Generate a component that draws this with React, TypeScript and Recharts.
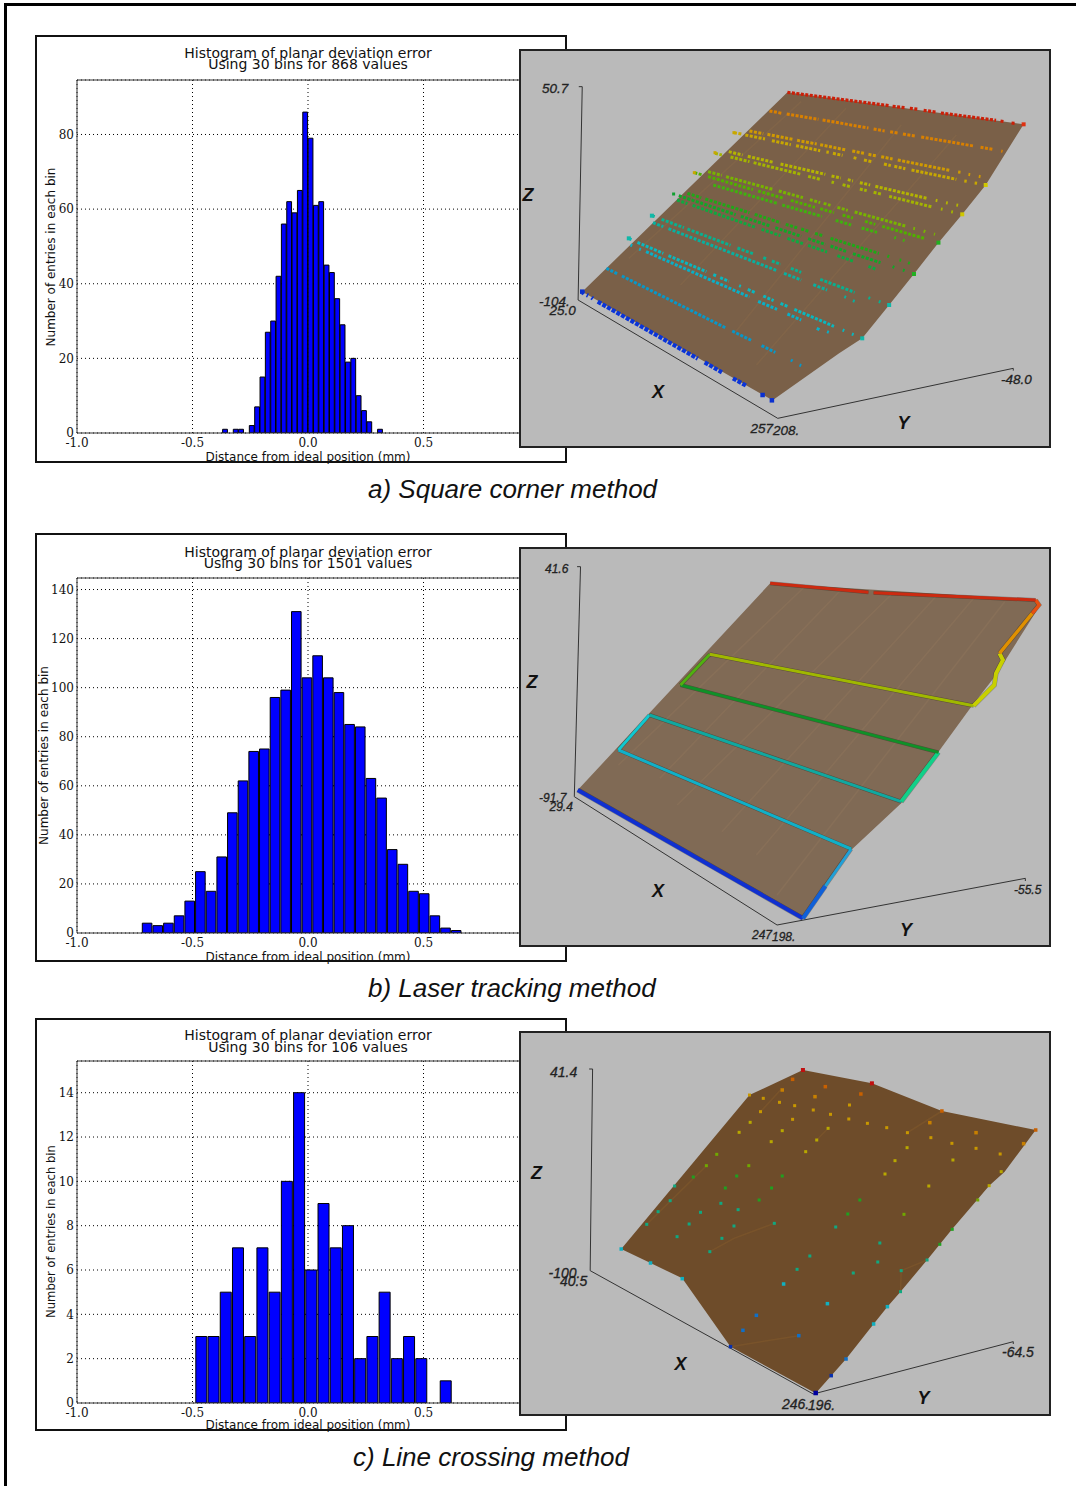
import React from 'react';
import { BarChart, Bar, XAxis, YAxis, CartesianGrid, ReferenceLine, ScatterChart, Scatter } from 'recharts';

// ---------- histogram data ----------
const xTickValues = [-1, -0.5, 0, 0.5];
const binsA = [-0.358,-0.3349,-0.3118,-0.2886,-0.2655,-0.2424,-0.2192,-0.1961,-0.173,-0.1498,-0.1267,-0.1036,-0.0804,-0.0573,-0.0342,-0.011,0.0121,0.0352,0.0583,0.0815,0.1046,0.1277,0.1509,0.174,0.1971,0.2203,0.2434,0.2665,0.2897,0.3128];
const countsA = [1,0,1,1,0,2,7,15,27,30,42,56,62,59,65,86,79,61,62,45,43,36,29,19,20,10,6,3,0,1];
const yTicksA = [0,20,40,60,80];
const binsB = [-0.6986,-0.6525,-0.6063,-0.5602,-0.5141,-0.4679,-0.4218,-0.3756,-0.3295,-0.2834,-0.2372,-0.1911,-0.1449,-0.0988,-0.0527,-0.0065,0.0396,0.0858,0.1319,0.178,0.2242,0.2703,0.3165,0.3626,0.4087,0.4549,0.501,0.5472,0.5933,0.6394];
const countsB = [4,3,4,7,13,25,17,31,49,62,74,75,96,99,131,104,113,104,98,85,84,63,55,34,28,17,16,7,2,1];
const yTicksB = [0,20,40,60,80,100,120,140];
const binsC = [-0.4635,-0.4106,-0.3577,-0.3048,-0.2519,-0.199,-0.1461,-0.0932,-0.0403,0.0126,0.0655,0.1184,0.1713,0.2242,0.2771,0.33,0.3829,0.4358,0.4887,0.5416,0.5945];
const countsC = [3,3,5,7,3,7,5,10,14,6,9,7,8,2,3,5,2,3,2,0,1];
const yTicksC = [0,2,4,6,8,10,12,14];

// ---------- projected 3D scene A ----------
const polyA = [[195,740],[790,142],[1475,238],[1365,420],[1297,508],[1228,593],[1157,687],[1085,780],[1007,880],[940,925],[747,1066]];
const axesA = [[[185,125],[195,125],[183,765],[762,1120],[1445,970],[1445,977]]];
const streaksA = [[[330,640],[830,170]],[[480,720],[960,190]],[[640,860],[1120,240]],[[700,960],[1280,270]]];
const rowsA = [
  { c:'#cc1f08', w:3.2, s:[[790,142,1085,182],[1095,184,1130,188],[1145,190,1170,193],[1185,196,1220,201],[1235,204,1395,226],[1408,228,1420,230],[1440,234,1450,235]] },
  { c:'#d98000', w:3, s:[[738,198,775,205],[788,207,880,223],[892,225,1025,249],[1040,252,1072,258],[1088,260,1110,264],[1125,267,1160,273],[1178,276,1330,303],[1350,307,1385,313],[1410,318,1414,319]] },
  { c:'#d09a00', w:3, s:[[680,258,720,266],[732,268,805,283],[818,286,875,297],[885,299,960,315],[978,318,1012,325],[1025,328,1050,333],[1062,335,1095,342],[1110,345,1260,376],[1285,381,1292,382],[1315,388,1320,389],[1345,394,1350,395]] },
  { c:'#c8a800', w:3, s:[[635,263,660,268],[668,270,725,282],[745,287,800,299],[815,302,885,317],[903,321,910,322],[922,325,950,331],[982,338,990,340],[1012,345,1035,350],[1070,357,1090,362],[1100,364,1132,371],[1150,375,1280,403],[1303,408,1310,409],[1333,414,1340,415]] },
  { c:'#b4b400', w:3, s:[[620,320,660,330],[675,334,750,352],[770,357,900,388],[918,393,945,399],[965,404,980,408],[1000,413,1030,420],[1045,424,1195,460],[1220,466,1225,467],[1250,473,1255,474],[1280,480,1285,481]] },
  { c:'#a4b400', w:3, s:[[580,325,600,330],[625,336,680,350],[692,353,830,388],[850,394,885,403],[918,411,925,413],[950,419,972,425],[1000,432,1020,437],[1040,442,1065,448],[1085,454,1210,486],[1235,492,1240,493],[1265,500,1270,501]] },
  { c:'#78b400', w:3, s:[[560,380,600,391],[612,395,750,434],[765,438,835,458],[855,464,885,473],[895,475,915,481],[935,487,965,496],[985,501,1135,544],[1155,550,1160,551],[1185,558,1190,560],[1215,567,1218,568]] },
  { c:'#50b000', w:3, s:[[520,383,545,390],[560,395,690,434],[705,438,780,460],[800,466,870,487],[885,491,925,503],[950,510,980,519],[1015,529,1045,538],[1065,544,1190,581]] },
  { c:'#40b010', w:3, s:[[575,420,760,475],[775,480,890,514],[930,526,975,540],[1005,549,1050,562],[1100,577,1105,579],[1125,585,1130,587]] },
  { c:'#20a818', w:3, s:[[500,445,540,458],[552,462,680,503],[695,508,770,533],[785,538,820,549],[830,552,855,560],[870,565,895,573],[915,580,1055,625],[1080,633,1085,635],[1115,645,1120,646],[1140,653,1145,655]] },
  { c:'#10a828', w:3, s:[[475,452,640,509],[655,514,740,543],[755,548,830,574],[850,581,900,598],[915,603,960,619],[980,626,1060,653],[1095,665,1100,667],[1125,675,1130,677]] },
  { c:'#10a840', w:3, s:[[470,465,500,476],[515,481,700,548],[715,553,770,572],[790,580,835,596],[850,601,905,621],[935,632,980,648],[1025,664,1045,672]] },
  { c:'#08b090', w:3, s:[[397,512,405,515],[425,523,490,548],[500,552,625,601],[645,609,690,626],[720,638,730,642],[745,648,770,658],[800,670,830,682],[885,703,985,742],[1025,758,1030,760],[1055,769,1060,771]] },
  { c:'#08b0a0', w:3, s:[[400,533,430,545],[445,551,760,677],[780,685,830,705],[865,719,905,735],[955,755,960,757],[980,767,985,769]] },
  { c:'#08b8c0', w:3, s:[[330,580,340,585],[355,592,430,625],[445,632,555,680],[575,689,585,693],[595,698,620,709],[650,722,655,724],[675,733,695,742],[720,753,750,767],[770,775,790,784],[810,793,925,844],[950,855,955,857],[977,867,982,869]] },
  { c:'#08b0c8', w:3, s:[[335,600,340,602],[360,612,365,614],[380,620,680,756],[705,769,760,793],[790,807,830,825],[875,850,885,855],[905,860,910,862]] },
  { c:'#0898c8', w:3, s:[[265,670,300,688],[310,693,610,848],[630,858,685,886],[715,902,755,922],[800,945,805,948],[825,960,830,962]] },
  { c:'#0a34d8', w:4.2, s:[[195,742,200,745],[208,750,212,752],[222,758,226,761],[240,770,530,941],[550,952,600,982],[632,1000,672,1023]] },
];
const dotsA = [
  { c:'#e03010', r:4, p:[[1475,238]] },
  { c:'#d0c800', r:4, p:[[1365,420],[1297,508]] },
  { c:'#20b020', r:4, p:[[1228,593],[1157,687]] },
  { c:'#10b8a8', r:4, p:[[1085,780],[1007,880],[397,512],[330,580]] },
  { c:'#c8a800', r:3, p:[[635,263],[580,323],[520,383]] },
  { c:'#10a030', r:3, p:[[460,447]] },
  { c:'#0a30d0', r:4.5, p:[[745,1066],[718,1050],[195,740]] },
];

// ---------- projected 3D scene B ----------
const polyB = [[182,735],[740,115],[1515,165],[1520,185],[1395,390],[1320,490],[1225,625],[1120,775],[975,915],[835,1120]];
const axesB = [[[180,65],[190,65],[172,755],[760,1140],[1480,1000],[1480,1008]]];
const streaksB = [[[300,660],[840,125]],[[420,700],[950,130]],[[470,780],[1090,150]],[[600,860],[1220,155]],[[700,930],[1330,160]],[[760,1050],[1420,170]]];
const linesB = [
  { c:'#1030d0', w:4, p:[[182,735],[835,1120]] },
  { c:'#1060d8', w:4, p:[[835,1120],[900,1023]] },
  { c:'#20a0d8', w:3, p:[[900,1023],[975,912]] },
  { c:'#10b0c8', w:3, p:[[975,912],[300,615]] },
  { c:'#10c8d0', w:3, p:[[300,615],[390,510]] },
  { c:'#10a8a0', w:3, p:[[390,510],[1120,770]] },
  { c:'#10d088', w:4, p:[[1120,770],[1228,622]] },
  { c:'#109028', w:3, p:[[1228,622],[480,420]] },
  { c:'#50b010', w:3, p:[[480,420],[565,328]] },
  { c:'#a0b800', w:3, p:[[565,328],[1330,482]] },
  { c:'#c8d000', w:4, p:[[1330,482],[1390,420],[1395,385],[1415,345],[1405,325]] },
  { c:'#e09000', w:3.5, p:[[1405,325],[1500,205]] },
  { c:'#e85010', w:3.5, p:[[1500,205],[1520,180],[1510,165]] },
  { c:'#cc2a10', w:3, p:[[1510,165],[1040,143]] },
  { c:'#cc2a10', w:3, p:[[1025,142],[740,115]] },
];

// ---------- projected 3D scene C ----------
const polyC = [[308,672],[680,210],[835,135],[1035,175],[1238,258],[1510,315],[1420,440],[1375,482],[1340,525],[1268,612],[1195,705],[1118,800],[1080,845],[1040,897],[960,1002],[917,1052],[872,1105],[625,965],[485,760],[393,714]];
const axesC = [[[215,132],[225,132],[218,737],[865,1107],[1445,950],[1445,957]]];
const streaksC = [[[565,680],[635,640],[752,595]],[[625,965],[823,932]],[[1118,800],[1120,737],[1195,705]],[[1138,323],[1238,258]],[[875,345],[908,310]],[[770,195],[712,260]],[[382,598],[555,422]]];
const dotsC = [
  { c:'#c01010', r:4, p:[[835,135],[1035,175]] },
  { c:'#c86000', r:3.5, p:[[805,163],[900,185],[1003,207],[1238,258],[1510,315]] },
  { c:'#c88000', r:3.5, p:[[1203,293],[775,195],[870,215],[1337,323],[1475,356]] },
  { c:'#c89800', r:3, p:[[680,210],[720,220],[767,232],[811,242],[865,255],[970,240],[915,268],[968,282],[712,260],[805,283],[1022,295],[1078,308],[1138,323],[1206,338],[1267,355],[1337,370],[1407,387]] },
  { c:'#b8a800', r:3, p:[[682,292],[650,322],[775,317],[908,310],[875,345],[743,350],[843,380],[1137,368],[1102,407],[1270,405],[1073,447],[1200,483],[1410,440],[1375,482]] },
  { c:'#70a800', r:3, p:[[585,388],[555,422],[678,422],[1342,525],[1128,568]] },
  { c:'#20a020', r:3, p:[[517,456],[643,453],[775,453],[610,489],[744,489],[708,525],[1000,525],[965,567],[1268,613],[1232,658]] },
  { c:'#10a880', r:3, p:[[463,483],[450,527],[597,535],[647,554],[538,562],[415,560],[505,597],[635,603],[752,595],[930,606],[1058,654],[1195,705],[1052,711],[855,693],[382,598],[470,635],[600,640],[565,680],[818,733],[981,744],[1120,737],[1118,800]] },
  { c:'#10b0c0', r:3.5, p:[[308,672],[393,714],[485,761],[779,777],[906,836],[1080,845],[1040,897]] },
  { c:'#1070c8', r:3.5, p:[[700,871],[661,916],[823,932],[960,1002]] },
  { c:'#0830b0', r:3.5, p:[[625,965],[917,1052]] },
  { c:'#0000a0', r:4.5, p:[[872,1104]] },
];

// ---------- text ----------
const SANS = '"DejaVu Sans"';
const SERIF = '"DejaVu Serif"';
const HELV = '"Liberation Sans"';
const titleLine = 'Histogram of planar deviation error';
const yLabel = 'Number of entries in each bin';
const xLabel = 'Distance from ideal position (mm)';
const subtitles = [
  ['Using 30 bins for 868 values', 57.7, 69.3, 55, 257, 12],
  ['Using 30 bins for 1501 values', 556.7, 568.3, 47.5, 755.5, 12],
  ['Using 30 bins for 106 values', 1040, 1051.5, 55, 1231.5, 11.6],
];
const captions = [
  ['a) Square corner method', 368, 498],
  ['b) Laser tracking method', 368, 997],
  ['c) Line crossing method', 353, 1466],
];
const sceneLabels = [
  ['50.7',542,88,13.5],['-104.',539,301.7,13.5],['25.0',549.5,310,13.5],['257',750.5,428,13.5],['208.',773,430,13.5],['-48.0',1001,379,13.5],
  ['41.6',545,569,12],['-91.7',539,798,12],['29.4',549.5,806.7,12],['247',752,935,12],['198.',772,936.7,12],['-55.5',1014,890,12],
  ['41.4',550,1072,14],['-100.',548.5,1272.7,14],['40.5',560,1281,14],['246.',782,1404,14],['196.',808,1405,14],['-64.5',1002,1352,14],
];
const sceneAxisNames = [
  ['Z',528,195],['X',658,391.7],['Y',903.6,423],
  ['Z',532,682],['X',658,891],['Y',906,930],
  ['Z',536.4,1172.7],['X',680.5,1364],['Y',923.6,1397.7],
];

// ---------- helpers ----------
const abs = (left: number, top: number, width: number, height: number, extra: any = {}) => ({ position: 'absolute', left, top, width, height, boxSizing: 'border-box', ...extra }) as React.CSSProperties;
const noDot = () => <g />;
const toPts = (p: number[][]) => p.map(([x, y]) => ({ x, y }));
const segPts = (s: number[][]) => s.flatMap(([a, b, c, d]) => [{ x: a, y: b }, { x: c, y: d }]);
const squareDot = (r: number) => (props: any) => <rect x={props.cx - r / 2} y={props.cy - r / 2} width={r} height={r} fill={props.fill} />;
const fillLine = (fill: string) => (props: any) => <path d={'M' + props.points.map((p: any) => `${p.x},${p.y}`).join('L') + 'Z'} fill={fill} stroke="none" />;
const pairLine = (color: string, w: number) => (props: any) => {
  let d = '';
  for (let i = 0; i + 1 < props.points.length; i += 2) d += `M${props.points[i].x},${props.points[i].y}L${props.points[i + 1].x},${props.points[i + 1].y}`;
  return <path d={d} fill="none" stroke={color} strokeWidth={w} strokeDasharray={w > 4 ? '4 1.4' : '3 1.5'} />;
};
const xTick = (p: any) => <text x={p.x} y={p.y + 14} textAnchor="middle" fontFamily={SERIF} fontSize={12} fill="#111">{Number(p.payload.value).toFixed(1)}</text>;
const yTick = (p: any) => <text x={p.x} y={p.y + 4.3} textAnchor="end" fontFamily={SERIF} fontSize={12} fill="#111">{p.payload.value}</text>;

function Histogram({ boxTop, boxBottom, plotTop, plotBottom, bins, counts, barSize, yMax, yTicks, xLabelOffset }: any) {
  const data = bins.map((bin: number, i: number) => ({ bin, count: counts[i] }));
  const height = plotBottom + 36 - boxTop;
  return (
    <>
      <div style={abs(35, boxTop, 532, boxBottom - boxTop, { border: '2px solid #111' })} />
      <div style={abs(35, boxTop, 531, height)}>
        <BarChart width={531} height={height} data={data} margin={{ top: plotTop - boxTop, right: 27, bottom: 7, left: 0 }}>
          <CartesianGrid stroke="#000" strokeDasharray="1 3" />
          <XAxis dataKey="bin" type="number" domain={[-1, 1]} ticks={xTickValues} interval={0} height={29} tickLine={false} tickSize={0} tickMargin={0} axisLine={{ stroke: '#333' }}
            tick={xTick} label={{ value: xLabel, position: 'bottom', offset: xLabelOffset, fontFamily: SANS, fontSize: 12, fill: '#111' }} />
          <YAxis type="number" width={42} domain={[0, yMax]} ticks={yTicks} interval={0} tickLine={false} tickSize={0} tickMargin={3} axisLine={{ stroke: '#333' }}
            tick={yTick} allowDataOverflow />
          <ReferenceLine y={yMax} stroke="#333" />
          <Bar dataKey="count" fill="#0000ff" stroke="#000" strokeWidth={1} barSize={barSize} isAnimationActive={false} />
        </BarChart>
      </div>
    </>
  );
}

function Scene({ top, height, xDomain, yDomain, poly, polyFill, axes, streaks, streakColor, rows, lines, dots }: any) {
  return (
    <div style={abs(519, top, 532, height, { background: '#bababa' })}>
      <ScatterChart width={532} height={height} margin={{ top: 0, right: 0, bottom: 0, left: 0 }}>
        <XAxis dataKey="x" type="number" hide domain={xDomain} allowDataOverflow />
        <YAxis dataKey="y" type="number" hide domain={yDomain} reversed allowDataOverflow />
        {axes.map((a: number[][], i: number) => (
          <Scatter key={'ax' + i} data={toPts(a)} line={{ stroke: '#333', strokeWidth: 1 }} shape={noDot} isAnimationActive={false} />
        ))}
        <Scatter data={toPts(poly)} line={fillLine(polyFill)} shape={noDot} isAnimationActive={false} />
        {(streaks || []).map((s: number[][], i: number) => (
          <Scatter key={'st' + i} data={toPts(s)} line={{ stroke: streakColor, strokeWidth: 1.5, strokeOpacity: 0.6 }} shape={noDot} isAnimationActive={false} />
        ))}
        {(rows || []).map((r: any, i: number) => (
          <Scatter key={'row' + i} data={segPts(r.s)} line={pairLine(r.c, r.w)} shape={noDot} isAnimationActive={false} />
        ))}
        {(lines || []).map((l: any, i: number) => (
          <Scatter key={'shade' + i} data={toPts(l.p)} line={{ stroke: '#000', strokeOpacity: 0.3, strokeWidth: l.w + 1 }} shape={noDot} isAnimationActive={false} />
        ))}
        {(lines || []).map((l: any, i: number) => (
          <Scatter key={'line' + i} data={toPts(l.p)} line={{ stroke: l.c, strokeWidth: l.w }} shape={noDot} isAnimationActive={false} />
        ))}
        {(dots || []).map((d: any, i: number) => (
          <Scatter key={'dot' + i} data={toPts(d.p)} fill={d.c} shape={squareDot(d.r)} isAnimationActive={false} />
        ))}
      </ScatterChart>
      <div style={abs(0, 0, 532, height, { border: '2px solid #222' })} />
    </div>
  );
}

export default function App() {
  return (
    <div style={abs(0, 0, 1076, 1486, { overflow: 'hidden', background: '#fff' })}>
      <div style={abs(4, 3, 1072, 3, { background: '#000' })} />
      <div style={abs(4, 3, 3, 1483, { background: '#000' })} />

      <Histogram boxTop={35} boxBottom={463} plotTop={80} plotBottom={433} bins={binsA} counts={countsA} barSize={5.34} yMax={94.6} yTicks={yTicksA} xLabelOffset={-10} />
      <Histogram boxTop={533} boxBottom={962} plotTop={578} plotBottom={933} bins={binsB} counts={countsB} barSize={10.66} yMax={144.7} yTicks={yTicksB} xLabelOffset={-10} />
      <Histogram boxTop={1018} boxBottom={1431} plotTop={1061} plotBottom={1403} bins={binsC} counts={countsC} barSize={12.22} yMax={15.43} yTicks={yTicksC} xLabelOffset={-12} />

      <Scene top={49} height={399} xDomain={[11.6, 1554.4]} yDomain={[12, 1209]} poly={polyA} polyFill="#7a6048" axes={axesA} streaks={streaksA} streakColor="#86684a" rows={rowsA} dots={dotsA} />
      <Scene top={547} height={400} xDomain={[11.6, 1554.4]} yDomain={[6, 1206]} poly={polyB} polyFill="#806a55" axes={axesB} streaks={streaksB} streakColor="#8c735a" lines={linesB} />
      <Scene top={1031} height={385} xDomain={[11.6, 1554.4]} yDomain={[18, 1173]} poly={polyC} polyFill="#6e4c2a" axes={axesC} streaks={streaksC} streakColor="#80582c" dots={dotsC} />

      <svg width={1076} height={1486} style={{ position: 'absolute', left: 0, top: 0, pointerEvents: 'none' }}>
        {subtitles.map(([sub, y1, y2, yLabelX, yLabelY, yLabelSize]: any, i) => (
          <g key={i} fontFamily={SANS} fill="#111">
            <text x={308} y={y1} fontSize={14} textAnchor="middle">{titleLine}</text>
            <text x={308} y={y2} fontSize={14} textAnchor="middle">{sub}</text>
            <text transform={`translate(${yLabelX},${yLabelY}) rotate(-90)`} fontSize={yLabelSize} textAnchor="middle">{yLabel}</text>
          </g>
        ))}
        {captions.map(([t, x, y]: any) => (
          <text key={t} x={x} y={y} fontFamily={HELV} fontStyle="italic" fontSize={26} fill="#111">{t}</text>
        ))}
        {sceneLabels.map(([t, x, y, s]: any) => (
          <text key={t + x} x={x} y={y} fontFamily={HELV} fontStyle="italic" fontSize={s} fill="#222" stroke="#222" strokeWidth={0.3} dominantBaseline="central">{t}</text>
        ))}
        {sceneAxisNames.map(([t, x, y]: any) => (
          <text key={t + x} x={x} y={y} fontFamily={HELV} fontStyle="italic" fontWeight="bold" fontSize={18} fill="#111" textAnchor="middle" dominantBaseline="central">{t}</text>
        ))}
      </svg>
    </div>
  );
}
